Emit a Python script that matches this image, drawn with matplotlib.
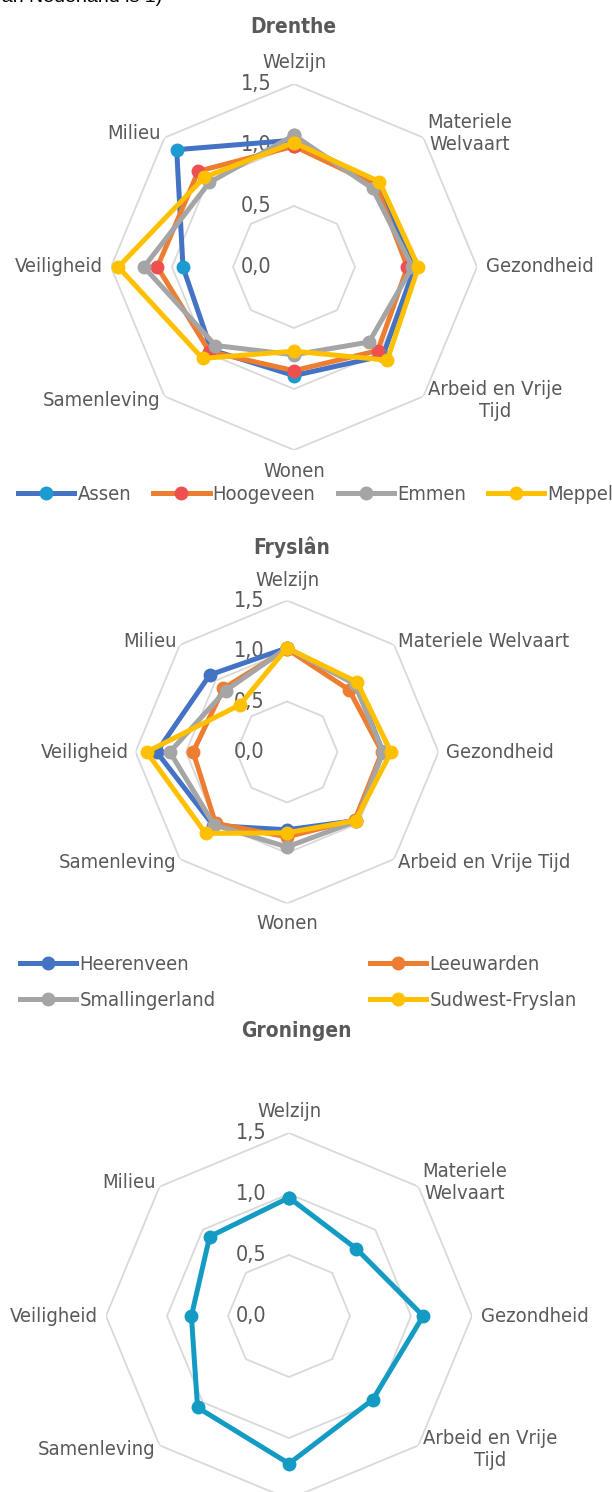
import numpy as np
import matplotlib
matplotlib.use("Agg")
import matplotlib.pyplot as plt
from matplotlib.lines import Line2D

plt.rcParams['font.family'] = ['DejaVu Sans']
plt.rcParams['font.stretch'] = 'condensed'

categories = ["Welzijn", "Materiele Welvaart", "Gezondheid", "Arbeid en Vrije Tijd",
              "Wonen", "Samenleving", "Veiligheid", "Milieu"]
ticks = [0.0, 0.5, 1.0, 1.5]

# Drenthe
drenthe_names = ["Assen", "Hoogeveen", "Emmen", "Meppel"]
assen = [1.04, 0.96, 0.99, 1.03, 0.89, 0.96, 0.91, 1.36]
hoogeveen = [0.99, 0.95, 0.93, 0.97, 0.85, 0.98, 1.12, 1.11]
emmen = [1.08, 0.91, 0.97, 0.87, 0.72, 0.91, 1.23, 0.98]
meppel = [1.02, 0.99, 1.02, 1.08, 0.69, 1.06, 1.44, 1.04]

# Fryslan
fryslan_names = ["Heerenveen", "Leeuwarden", "Smallingerland", "Sudwest-Fryslan"]
heerenveen = [1.03, 0.96, 0.95, 0.96, 0.77, 1.03, 1.29, 1.08]
leeuwarden = [1.02, 0.87, 0.94, 0.95, 0.84, 1.00, 0.93, 0.89]
smallingerland = [1.03, 0.95, 0.95, 0.97, 0.94, 1.02, 1.16, 0.86]
sudwest = [1.03, 0.98, 1.03, 0.96, 0.80, 1.14, 1.39, 0.66]

# Groningen
groningen = [0.97, 0.78, 1.10, 0.97, 1.21, 1.06, 0.80, 0.92]

W, H = 612, 1492
TXT = '#595959'
GRID = '#D9D9D9'
FS = 14.5

fig = plt.figure(figsize=(W / 100, H / 100), dpi=100)
theta = np.linspace(0, 2 * np.pi, len(categories), endpoint=False)


def radar(cx, cy, r, labels2, fs=FS):
    ax = fig.add_axes([(cx - r) / W, 1 - (cy + r) / H, 2 * r / W, 2 * r / H],
                      projection='polar')
    ax.set_theta_zero_location('N')
    ax.set_theta_direction(-1)
    ax.set_ylim(0, 1.5)
    ax.grid(False)
    ax.spines['polar'].set_visible(False)
    ax.set_xticks([])
    ax.set_yticks([])
    ax.patch.set_alpha(0)
    tt = np.append(theta, theta[0])
    for lv in ticks[1:]:
        ax.plot(tt, [lv] * len(tt), color=GRID, lw=1.3, zorder=1)
    for v in ticks:
        ax.annotate(f"{v:.1f}".replace('.', ','), xy=(0, v), xytext=(-16, 0),
                    textcoords='offset points', ha='right', va='center',
                    fontsize=fs + 1, color=TXT, zorder=2)
    al = [('center', 'bottom', 1.6), ('left', 'center', 1.55), ('left', 'center', 1.57),
          ('left', 'center', 1.55), ('center', 'top', 1.6), ('right', 'center', 1.55),
          ('right', 'center', 1.57), ('right', 'center', 1.55)]
    for t, lab, (ha, va, rr) in zip(theta, labels2, al):
        ax.text(t, rr, lab, ha=ha, va=va, fontsize=fs, color=TXT,
                multialignment='center', zorder=2)
    return ax


def series(ax, vals, lc, mc, name):
    ax.plot(np.append(theta, theta[0]), vals + vals[:1], color=lc, lw=3.6,
            marker='o', ms=9, mfc=mc, mec=mc, label=name, zorder=3, clip_on=False)


def handle(lc, mc):
    return Line2D([], [], color=lc, lw=3.6, marker='o', ms=9, mfc=mc, mec=mc)


fig.text(-8 / W, 1 - 2 / H, "van Nederland is 1)", fontsize=14, color='black',
         family=['Liberation Sans', 'DejaVu Sans'], stretch='normal', va='baseline')

# Drenthe
lab_d = ["Welzijn", "Materiele\nWelvaart", "Gezondheid", "Arbeid en Vrije\nTijd",
         "Wonen", "Samenleving", "Veiligheid", "Milieu"]
ax1 = radar(294, 267, 183, lab_d)
dcol = [('#4472C4', '#1B9BD0'), ('#ED7D31', '#EE5050'), ('#A5A5A5', '#A5A5A5'),
        ('#FFC000', '#FFC000')]
for vals, (lc, mc), nm in zip([assen, hoogeveen, emmen, meppel], dcol, drenthe_names):
    series(ax1, vals, lc, mc, nm)
fig.text(293 / W, 1 - 27 / H, "Drenthe", ha='center', va='center', fontsize=15,
         color=TXT, weight='semibold')
fig.legend([handle(*c) for c in dcol], drenthe_names, loc='center left',
           bbox_to_anchor=(18 / W, 1 - 495 / H), ncol=4, frameon=False,
           fontsize=FS, labelcolor=TXT, handlelength=2.8, handletextpad=0.15,
           columnspacing=1.1, borderpad=0, borderaxespad=0)

# Fryslan
lab_f = ["Welzijn", "Materiele Welvaart", "Gezondheid", "Arbeid en Vrije Tijd",
         "Wonen", "Samenleving", "Veiligheid", "Milieu"]
ax2 = radar(287, 752, 151.5, lab_f)
fcol = [('#4472C4', '#4472C4'), ('#ED7D31', '#ED7D31'), ('#A5A5A5', '#A5A5A5'),
        ('#FFC000', '#FFC000')]
for vals, (lc, mc), nm in zip([heerenveen, leeuwarden, smallingerland, sudwest], fcol,
                              fryslan_names):
    series(ax2, vals, lc, mc, nm)
fig.text(292 / W, 1 - 547 / H, "Fryslân", ha='center', va='center', fontsize=15,
         color=TXT, weight='semibold')
fig.legend([handle(*fcol[0]), handle(*fcol[2])], [fryslan_names[0], fryslan_names[2]],
           loc='upper left', bbox_to_anchor=(20 / W, 1 - 955 / H), frameon=False,
           fontsize=FS, labelcolor=TXT, handlelength=2.8, handletextpad=0.15,
           labelspacing=0.85, borderpad=0, borderaxespad=0)
fig.legend([handle(*fcol[1]), handle(*fcol[3])], [fryslan_names[1], fryslan_names[3]],
           loc='upper left', bbox_to_anchor=(370 / W, 1 - 955 / H), frameon=False,
           fontsize=FS, labelcolor=TXT, handlelength=2.8, handletextpad=0.15,
           labelspacing=0.85, borderpad=0, borderaxespad=0)

# Groningen
ax3 = radar(289, 1316, 183, lab_d)
series(ax3, groningen, '#149BC4', '#149BC4', "Groningen")
fig.text(296 / W, 1 - 1031 / H, "Groningen", ha='center', va='center', fontsize=15,
         color=TXT, weight='semibold')

fig.savefig("out.png", dpi=100)
